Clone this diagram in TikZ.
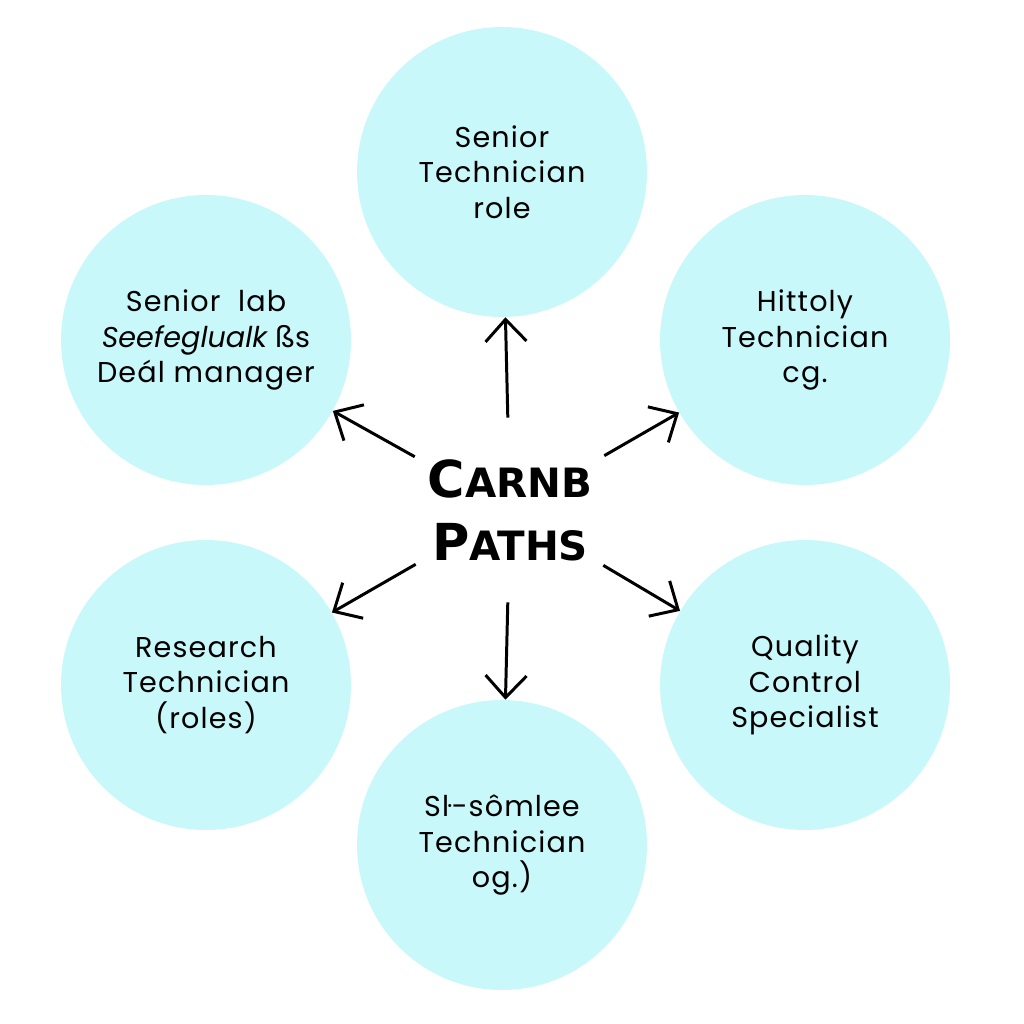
\documentclass[tikz,border=0pt]{standalone}
\usepackage{fontspec}
\setmainfont{Poppins}[LetterSpace=4]
\newfontfamily\headfont{DejaVu Sans}
\usepackage{xcolor}
\usetikzlibrary{arrows.meta,shapes.geometric}

\definecolor{rolecyan}{HTML}{C9F8FA}

\begin{document}
\begin{tikzpicture}[
    x=0.02cm, y=-0.02cm,
    role/.style={circle, fill=rolecyan, minimum size=5.8cm, inner sep=0pt, align=center, font=\fontsize{16.3pt}{20.3pt}\selectfont},
    hub/.style={ellipse, minimum width=4.36cm, minimum height=3.68cm, inner sep=0pt, align=center, font=\headfont\bfseries\fontsize{29pt}{36pt}\selectfont},
    pathlink/.style={-{Straight Barb[length=0.44cm, width=0.82cm]}, line width=1.7pt, black}
]

% Canvas
\fill[white] (0,0) rectangle (1024,1024);

% Centre title
\node[hub] (hub) at (510,510) {%
    C{\fontsize{23pt}{36pt}\selectfont ARNB}\\
    P{\fontsize{23pt}{36pt}\selectfont ATHS}};

% Role circles
\node[role] (top) at (502,172) {Senior\\Technician\\role};
\node[role] (upleft) at (206,340) {Senior\ \ lab\\{\addfontfeatures{LetterSpace=0}\textit{Seefeglualk} ßs}\\Deál manager};
\node[role] (upright) at (805,340) {Hittoly\\Technician\\cg.};
\node[role] (lowleft) at (206,685) {Research\\Technician\\(roles)};
\node[role] (lowright) at (805,685) {Quality\\Control\\Specialist};
\node[role] (bottom) at (502,845) {Sŀ-sômlee\\Technician\\og.)};

% Arrows out of the hub
\foreach \target in {top, upleft, upright, lowleft, lowright, bottom} {
    \draw[pathlink] (hub) -- (\target);
}

\end{tikzpicture}
\end{document}
